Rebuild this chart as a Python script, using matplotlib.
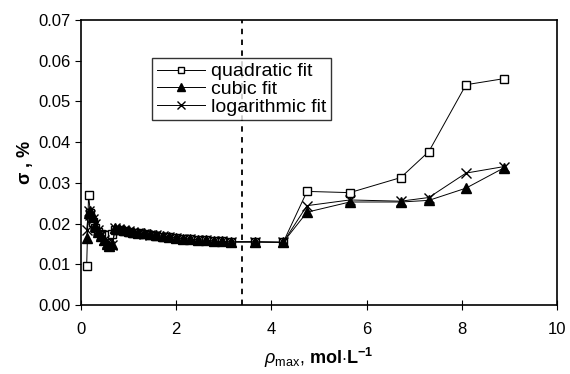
import matplotlib
matplotlib.use("Agg")
import matplotlib.pyplot as plt

plt.rcParams['font.family'] = ['Liberation Sans', 'DejaVu Sans']
plt.rcParams['mathtext.fontset'] = 'custom'
plt.rcParams['mathtext.rm'] = 'Liberation Sans'
plt.rcParams['mathtext.it'] = 'Liberation Sans:italic'
plt.rcParams['mathtext.bf'] = 'Liberation Sans:bold'

# rho_max values, mol/L
rho = [0.12, 0.16, 0.20, 0.25, 0.30, 0.36, 0.42, 0.48, 0.54, 0.60, 0.66,
       0.72, 0.80, 0.90, 1.00, 1.10, 1.20, 1.32, 1.45, 1.58, 1.72, 1.86,
       2.00, 2.15, 2.30, 2.46, 2.62, 2.80, 2.97, 3.15, 3.65, 4.25, 4.75,
       5.65, 6.72, 7.31, 8.09, 8.89]

quadratic = [0.0095, 0.0270, 0.0225, 0.0205, 0.0190, 0.0180, 0.0175, 0.0172,
             0.0172, 0.0173, 0.0175, 0.0185, 0.0184, 0.0182, 0.0180, 0.0178,
             0.0176, 0.0174, 0.0172, 0.0170, 0.0168, 0.0166, 0.0164, 0.0162,
             0.0161, 0.0160, 0.0159, 0.0157, 0.0156, 0.0155, 0.0155, 0.0154,
             0.0279, 0.0276, 0.0313, 0.0377, 0.0541, 0.0556]

cubic = [0.0165, 0.0225, 0.0230, 0.0215, 0.0195, 0.0180, 0.0170, 0.0160,
         0.0150, 0.0145, 0.0150, 0.0188, 0.0187, 0.0185, 0.0182, 0.0180,
         0.0178, 0.0176, 0.0174, 0.0171, 0.0169, 0.0167, 0.0165, 0.0163,
         0.0162, 0.0160, 0.0159, 0.0157, 0.0156, 0.0155, 0.0155, 0.0154,
         0.0228, 0.0253, 0.0253, 0.0257, 0.0287, 0.0337]

logarithmic = [0.0185, 0.0230, 0.0222, 0.0212, 0.0200, 0.0185, 0.0172, 0.0160,
               0.0152, 0.0145, 0.0148, 0.0188, 0.0186, 0.0184, 0.0181, 0.0179,
               0.0177, 0.0175, 0.0173, 0.0171, 0.0169, 0.0167, 0.0165, 0.0163,
               0.0162, 0.0160, 0.0159, 0.0157, 0.0156, 0.0155, 0.0155, 0.0154,
               0.0244, 0.0258, 0.0255, 0.0264, 0.0324, 0.0340]

rho_limit = 3.38

fig = plt.figure(figsize=(5.7, 3.74), dpi=100)
ax = fig.add_axes([0.142, 0.1845, 0.835, 0.762])

ax.plot(rho, quadratic, color='black', lw=0.7, marker='s', ms=6,
        mfc='white', mec='black', mew=1.0, label='quadratic fit')
ax.plot(rho, cubic, color='black', lw=0.7, marker='^', ms=6.5,
        mfc='black', mec='black', label='cubic fit')
ax.plot(rho, logarithmic, color='black', lw=0.7, marker='x', ms=7,
        mew=1.0, label='logarithmic fit')
ax.axvline(rho_limit, color='black', lw=1.3, ls=(0, (3, 3)))

ax.set_xlim(0, 10)
ax.set_ylim(0, 0.07)
ax.set_xticks([0, 2, 4, 6, 8, 10])
ax.set_yticks([0.00, 0.01, 0.02, 0.03, 0.04, 0.05, 0.06, 0.07])
ax.set_yticklabels(['%.2f' % v for v in ax.get_yticks()])
ax.tick_params(axis='x', direction='inout', length=7, labelsize=12, pad=9)
ax.tick_params(axis='y', direction='out', length=4, labelsize=12)
for s in ax.spines.values():
    s.set_linewidth(1.2)

ax.set_xlabel(r'$\it{\rho}$$_{\mathrm{max}}$, $\mathbf{mol{\cdot}L^{-1}}$',
              fontsize=13, labelpad=6)
ax.set_ylabel(r'$\mathbf{\sigma}$ , %', fontsize=13, fontweight='bold', labelpad=2)

leg = ax.legend(loc='upper left', bbox_to_anchor=(0.149, 0.867), fontsize=14,
                frameon=True, fancybox=False, edgecolor='black',
                handlelength=2.5, labelspacing=0.0, borderpad=0.25,
                handletextpad=0.3, borderaxespad=0, markerscale=0.8)
leg.get_frame().set_linewidth(1.0)

fig.savefig('out.png', dpi=100)
